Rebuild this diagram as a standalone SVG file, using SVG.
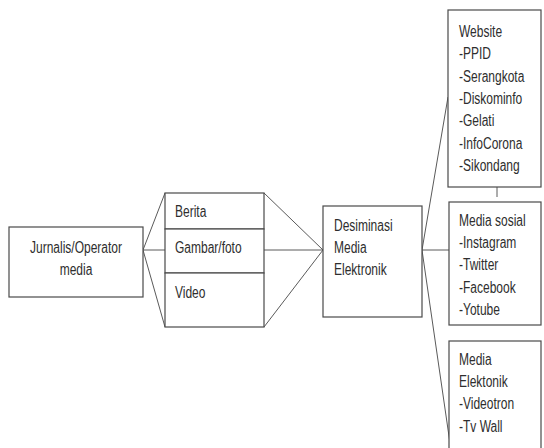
<svg xmlns="http://www.w3.org/2000/svg" width="544" height="448" viewBox="0 0 544 448">
<style>
.box{fill:#fff;stroke:#4a4a4a;stroke-width:1.2}
.ln{stroke:#5a5a5a;stroke-width:1;fill:none}
text{font-family:"Liberation Sans",Arial,sans-serif;font-size:16px;fill:#2e2e2e}
.c{text-anchor:middle}
</style>
<rect width="544" height="448" fill="#fff"/>
<g id="connectors">
<polyline class="ln" points="165,193 143,250 165,327"/>
<line class="ln" x1="143" y1="250" x2="165" y2="250"/>
<polyline class="ln" points="264,193 323,250 264,327"/>
<line class="ln" x1="264" y1="250" x2="323" y2="250"/>
<line class="ln" x1="422" y1="250" x2="448" y2="97"/>
<line class="ln" x1="422" y1="250" x2="449" y2="250"/>
<line class="ln" x1="422" y1="250" x2="451" y2="450"/>
<line class="ln" x1="497" y1="187" x2="497" y2="197"/>
</g>
<g id="jurnalis">
<rect class="box" x="9" y="227" width="134" height="70"/>
<text class="c" transform="matrix(0.75,0,0,1,76,253)">Jurnalis/Operator</text>
<text class="c" transform="matrix(0.75,0,0,1,76,275)">media</text>
</g>
<g id="berita">
<rect class="box" x="165" y="193" width="99" height="36"/>
<text transform="matrix(0.75,0,0,1,175,217)">Berita</text>
</g>
<g id="gambar">
<rect class="box" x="165" y="229" width="99" height="44"/>
<text transform="matrix(0.75,0,0,1,175,253)">Gambar/foto</text>
</g>
<g id="video">
<rect class="box" x="165" y="273" width="99" height="54"/>
<text transform="matrix(0.75,0,0,1,175,298)">Video</text>
</g>
<g id="desiminasi">
<rect class="box" x="323" y="206" width="99" height="111"/>
<text transform="matrix(0.75,0,0,1,334,231)">Desiminasi</text>
<text transform="matrix(0.75,0,0,1,334,253)">Media</text>
<text transform="matrix(0.75,0,0,1,334,275)">Elektronik</text>
</g>
<g id="website">
<rect class="box" x="448" y="10" width="93" height="177"/>
<text transform="matrix(0.75,0,0,1,459,37)">Website</text>
<text transform="matrix(0.75,0,0,1,459,59)">-PPID</text>
<text transform="matrix(0.75,0,0,1,459,81.5)">-Serangkota</text>
<text transform="matrix(0.75,0,0,1,459,104)">-Diskominfo</text>
<text transform="matrix(0.75,0,0,1,459,126)">-Gelati</text>
<text transform="matrix(0.75,0,0,1,459,148.5)">-InfoCorona</text>
<text transform="matrix(0.75,0,0,1,459,170.5)">-Sikondang</text>
</g>
<g id="mediasosial">
<rect class="box" x="449" y="202" width="92" height="123"/>
<text transform="matrix(0.75,0,0,1,459,226)">Media sosial</text>
<text transform="matrix(0.75,0,0,1,459,248)">-Instagram</text>
<text transform="matrix(0.75,0,0,1,459,270)">-Twitter</text>
<text transform="matrix(0.75,0,0,1,459,292.5)">-Facebook</text>
<text transform="matrix(0.75,0,0,1,459,315)">-Yotube</text>
</g>
<g id="mediaelektonik">
<rect class="box" x="449" y="341" width="92" height="120"/>
<text transform="matrix(0.75,0,0,1,459,365)">Media</text>
<text transform="matrix(0.75,0,0,1,459,387)">Elektonik</text>
<text transform="matrix(0.75,0,0,1,459,409)">-Videotron</text>
<text transform="matrix(0.75,0,0,1,459,431.5)">-Tv Wall</text>
</g>
</svg>
